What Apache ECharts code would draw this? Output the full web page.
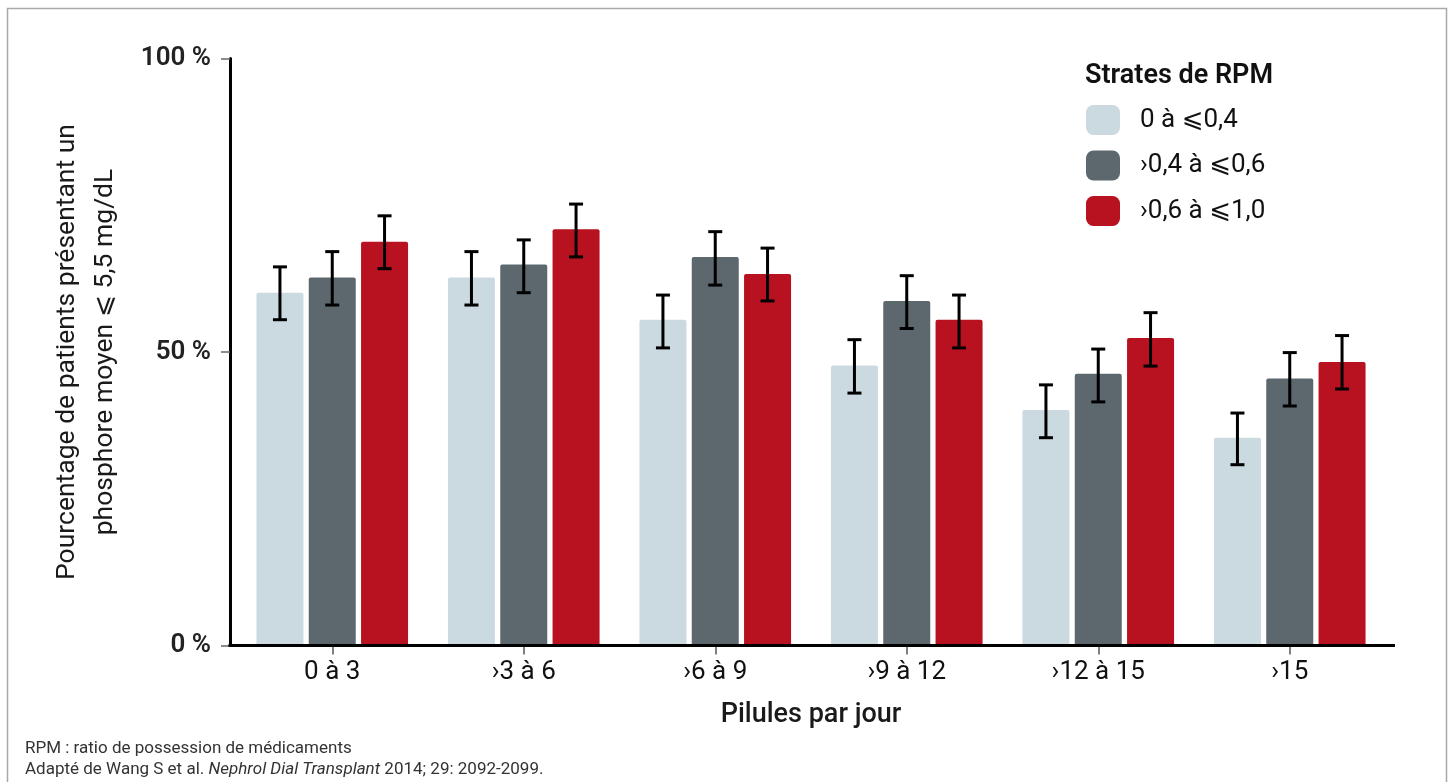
<!DOCTYPE html>
<html lang="fr">
<head>
<meta charset="utf-8">
<title>Pilules par jour et phosphore moyen</title>
<script src="https://cdn.jsdelivr.net/npm/echarts@6/dist/echarts.min.js"></script>
<style>
  html, body { margin: 0; padding: 0; background: #ffffff; }
  #chart { width: 1448px; height: 782px; }
</style>
</head>
<body>
<div id="chart"></div>
<script>
// Categories (pills per day)
const categories = ['0 à 3', '›3 à 6', '›6 à 9', '›9 à 12', '›12 à 15', '›15'];

// Strata names (medication possession ratio)
const strata = ['0 à ⩽0,4', '›0,4 à ⩽0,6', '›0,6 à ⩽1,0'];

// Percentage of patients with mean phosphorus ⩽ 5,5 mg/dL
const lowValues  = [60.1, 62.7, 55.5, 47.7, 40.1, 35.4];
const midValues  = [62.7, 64.9, 66.2, 58.7, 46.3, 45.5];
const highValues = [68.8, 70.9, 63.3, 55.5, 52.4, 48.3];

// Confidence interval bounds
const lowErrLo  = [55.5, 58.0, 50.7, 43.0, 35.4, 30.8];
const lowErrHi  = [64.5, 67.1, 59.7, 52.1, 44.4, 39.6];
const midErrLo  = [58.0, 60.1, 61.4, 54.0, 41.5, 40.8];
const midErrHi  = [67.1, 69.1, 70.5, 63.0, 50.5, 49.9];
const highErrLo = [64.2, 66.2, 58.7, 50.7, 47.6, 43.7];
const highErrHi = [73.2, 75.2, 67.7, 59.7, 56.7, 52.8];

// Y axis ticks
const yTicks = [0, 50, 100];

const COLORS = ['#cbd9e0', '#5d686e', '#b8111f'];
const BAR_W = 47;
const BAR_GAP_PX = 5.3;
const FONT = 'Roboto, "Noto Sans", "DejaVu Sans", sans-serif';

const GRID_LEFT = 236.5;
const GRID_RIGHT = 1448 - 1385.5;
const GRID_TOP = 58.5;
const GRID_BOTTOM = 782 - 645.5;

function errorSeries(name, lo, hi, slot) {
  return {
    type: 'custom',
    name: name,
    z: 10,
    silent: true,
    data: lo.map((l, i) => [i, l, hi[i]]),
    renderItem: function (params, api) {
      const c = api.value(0);
      const pLo = api.coord([c, api.value(1)]);
      const pHi = api.coord([c, api.value(2)]);
      const x = pLo[0] + (slot - 1) * (BAR_W + BAR_GAP_PX);
      const capHalf = 7;
      const style = { stroke: '#000', lineWidth: 3 };
      return {
        type: 'group',
        children: [
          { type: 'line', shape: { x1: x, y1: pHi[1], x2: x, y2: pLo[1] }, style: style },
          { type: 'line', shape: { x1: x - capHalf, y1: pHi[1], x2: x + capHalf, y2: pHi[1] }, style: style },
          { type: 'line', shape: { x1: x - capHalf, y1: pLo[1], x2: x + capHalf, y2: pLo[1] }, style: style }
        ]
      };
    }
  };
}

function barSeries(name, values, color) {
  return {
    type: 'bar',
    name: name,
    data: values,
    barWidth: BAR_W,
    barGap: (BAR_GAP_PX / BAR_W * 100).toFixed(1) + '%',
    itemStyle: { color: color, borderRadius: [2, 2, 0, 0] }
  };
}

const chart = echarts.init(document.getElementById('chart'), null, { renderer: 'canvas' });

const option = {
  animation: false,
  backgroundColor: '#ffffff',
  textStyle: { fontFamily: FONT },
  title: {
    text: 'Strates de RPM',
    left: 1085,
    top: 63,
    padding: 0,
    textStyle: { fontFamily: FONT, fontSize: 27, fontWeight: 600, color: '#111' }
  },
  legend: {
    data: strata,
    orient: 'vertical',
    left: 1086,
    top: 105,
    padding: 0,
    itemWidth: 34,
    itemHeight: 30,
    itemGap: 15.5,
    icon: 'roundRect',
    selectedMode: false,
    textStyle: { fontFamily: FONT, fontSize: 26, color: '#111', padding: [0, 0, 0, 15] }
  },
  grid: {
    left: GRID_LEFT,
    right: GRID_RIGHT,
    top: GRID_TOP,
    bottom: GRID_BOTTOM,
    containLabel: false
  },
  xAxis: {
    type: 'category',
    data: categories,
    name: 'Pilules par jour',
    nameLocation: 'middle',
    nameGap: 56,
    nameTextStyle: { fontFamily: FONT, fontSize: 27, fontWeight: 500, color: '#1a1a1a' },
    axisLine: { show: false },
    axisTick: { show: true, alignWithLabel: true, length: 9, lineStyle: { color: '#555', width: 1.5 } },
    axisLabel: { fontFamily: FONT, fontSize: 26, color: '#111', margin: 14 }
  },
  yAxis: {
    type: 'value',
    min: yTicks[0],
    max: yTicks[yTicks.length - 1],
    interval: yTicks[1] - yTicks[0],
    offset: 6.5,
    name: 'Pourcentage de patients présentant un\nphosphore moyen ⩽ 5,5 mg/dL',
    nameLocation: 'middle',
    nameGap: 106,
    nameRotate: 90,
    nameTextStyle: { fontFamily: FONT, fontSize: 26.5, color: '#1a1a1a', lineHeight: 38, align: 'center' },
    splitLine: { show: false },
    axisLine: { show: true, lineStyle: { color: '#000', width: 3 } },
    axisTick: { show: true, length: 9, lineStyle: { color: '#666', width: 1.5 } },
    axisLabel: {
      fontFamily: FONT, fontSize: 26, fontWeight: 600, color: '#222', margin: 19,
      formatter: v => v + ' %'
    }
  },
  series: [
    barSeries(strata[0], lowValues, COLORS[0]),
    barSeries(strata[1], midValues, COLORS[1]),
    barSeries(strata[2], highValues, COLORS[2]),
    errorSeries('ic-0', lowErrLo, lowErrHi, 0),
    errorSeries('ic-1', midErrLo, midErrHi, 1),
    errorSeries('ic-2', highErrLo, highErrHi, 2)
  ],
  graphic: [
    {
      type: 'rect',
      z: -1,
      silent: true,
      shape: { x: 7.5, y: 8.5, width: 1439, height: 800 },
      style: { fill: 'none', stroke: '#a9a9a9', lineWidth: 1.5 }
    },
    {
      type: 'text',
      left: 25,
      top: 738,
      silent: true,
      style: {
        text: 'RPM : ratio de possession de médicaments\nAdapté de Wang S et al. {i|Nephrol Dial Transplant} 2014; 29: 2092-2099.',
        fontFamily: FONT,
        fontSize: 17,
        lineHeight: 21,
        fill: '#333',
        rich: { i: { fontStyle: 'italic', fontFamily: FONT, fontSize: 17, fill: '#333' } }
      }
    }
  ]
};

chart.setOption(option);

// Baseline of the category axis, extended slightly past the plot area like the value axis
const y0 = chart.convertToPixel({ yAxisIndex: 0 }, 0);
chart.setOption({
  graphic: [
    option.graphic[0],
    option.graphic[1],
    {
      type: 'line',
      z: 5,
      silent: true,
      shape: { x1: GRID_LEFT - 8, y1: y0, x2: 1448 - GRID_RIGHT + 9.5, y2: y0 },
      style: { stroke: '#000', lineWidth: 3 }
    }
  ]
});
</script>
</body>
</html>
